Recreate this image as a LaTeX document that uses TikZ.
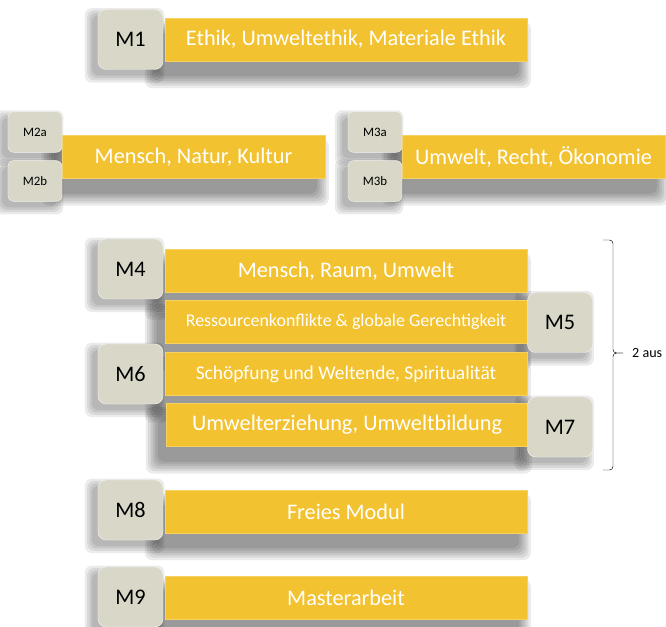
\documentclass[tikz,border=0pt]{standalone}
\usepackage{fontspec}
\setmainfont{Carlito}
\definecolor{modyellow}{RGB}{242,194,48}
\definecolor{tagbeige}{RGB}{217,215,200}
\pgfdeclarelayer{paper}
\pgfdeclarelayer{background}
\pgfsetlayers{paper,background,main}

\begin{document}
\begin{tikzpicture}[x=0.03cm, y=-0.03cm,
    bar/.style={fill=modyellow, draw=modyellow!75!white, text=white, minimum width=10.86cm,
        minimum height=1.28cm, inner sep=0pt, font=\fontsize{19}{22}\selectfont},
    tag/.style={fill=tagbeige, draw=white!70!tagbeige, rounded corners=7pt, minimum width=1.95cm,
        minimum height=1.8cm, inner sep=0pt, font=\fontsize{19}{22}\selectfont},
    smalltag/.style={tag, minimum width=1.62cm, minimum height=1.22cm, rounded corners=5pt,
        font=\fontsize{11}{13}\selectfont},
    haze/.style={fill=black, opacity=0.08, rounded corners=6pt}]
    \useasboundingbox (0,0) rectangle (666,627);
    \begin{pgfonlayer}{paper}
        \fill[white] (0,0) rectangle (666,627);
    \end{pgfonlayer}

    % M1
    \node[bar] (m1bar) at (346,39.5) {Ethik, Umweltethik, Materiale Ethik};
    \node[tag] (m1) at (130.5,39.5) {M1};

    % M2 and M3
    \node[bar, minimum width=7.89cm] (m2bar) at (193.5,157) {Mensch, Natur, Kultur};
    \node[smalltag] (m2a) at (35,132) {M2a};
    \node[smalltag] (m2b) at (35,181) {M2b};

    \node[bar, minimum width=7.89cm] (m3bar) at (533.5,157) {Umwelt, Recht, \"Okonomie};
    \node[smalltag] (m3a) at (375,132) {M3a};
    \node[smalltag] (m3b) at (375,181) {M3b};

    % M4 to M7
    \node[bar] (m4bar) at (346,271) {Mensch, Raum, Umwelt};
    \node[bar, font=\fontsize{15.3}{18}\selectfont] (m5bar) at (346,322) {Ressourcenkonflikte \& globale Gerechtigkeit};
    \node[bar, font=\fontsize{16.6}{19}\selectfont] (m6bar) at (346,374) {Sch\"opfung und Weltende, Spiritualit\"at};
    \node[bar, font=\fontsize{19}{22}\selectfont] (m7bar) at (347,425) {Umwelterziehung, Umweltbildung};
    \node[tag] (m4) at (130.5,269) {M4};
    \node[tag] (m5) at (560,322.5) {M5};
    \node[tag] (m6) at (130.5,374) {M6};
    \node[tag] (m7) at (560,427) {M7};

    % choice bracket
    \coordinate (bracetop) at (603,240);
    \coordinate (bracetip) at (623,353);
    \coordinate (bracebot) at (603,470);
    \draw[rounded corners=3pt] (bracetop) -| (613,353) -- (bracetip);
    \draw[rounded corners=3pt] (bracetip) -- (613,353) |- (bracebot);
    \node[anchor=west, font=\fontsize{12}{14}\selectfont, inner sep=0pt] (choice) at (632,353) {2 aus};

    % M8 and M9
    \node[bar] (m8bar) at (346,511.5) {Freies Modul};
    \node[tag] (m8) at (130.5,510) {M8};
    \node[bar] (m9bar) at (346,597.5) {Masterarbeit};
    \node[tag] (m9) at (130.5,597) {M9};

    % soft shadows
    \begin{pgfonlayer}{background}
        \foreach \n in {m1bar,m2bar,m3bar,m4bar,m5bar,m6bar,m7bar,m8bar,m9bar}
            \foreach \k in {0,2,...,10}
                \path[haze] ([shift={({-(7+\k)*1pt},{-(13+\k)*1pt})}]\n.south west)
                    rectangle ([shift={({(\k-7)*1pt},{(\k-13)*1pt})}]\n.north east);
        \foreach \n in {m1,m2a,m2b,m3a,m3b,m4,m5,m6,m7,m8,m9}
            \foreach \k in {0,2,4,6}
                \path[haze] ([shift={({-(5+\k)*1pt},{-(5+\k)*1pt})}]\n.south west)
                    rectangle ([shift={({(\k-5)*1pt},{(\k-5)*1pt})}]\n.north east);
    \end{pgfonlayer}
\end{tikzpicture}
\end{document}
